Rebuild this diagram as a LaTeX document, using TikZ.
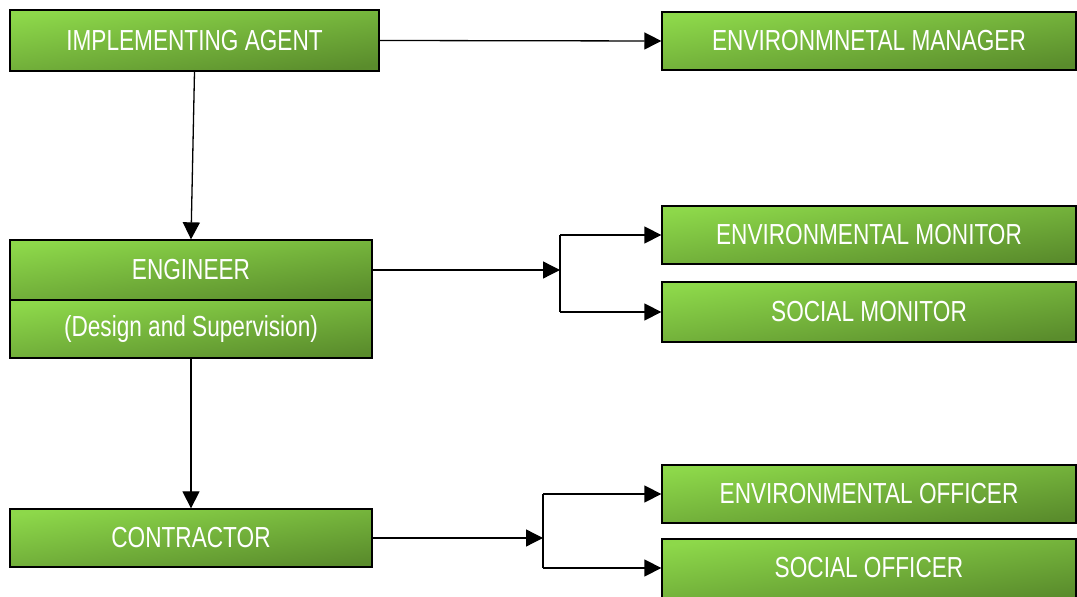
\documentclass[tikz,border=0pt]{standalone}
\usepackage{fontspec}
\newfontfamily\narrow[FakeStretch=0.78]{Liberation Sans}
\usetikzlibrary{arrows.meta}
\definecolor{gLight}{HTML}{8DD84A}
\definecolor{gDark}{HTML}{5A8C2C}
\tikzset{
  box/.style={draw=black, line width=1.3pt, rectangle, inner sep=0pt,
    top color=gLight, bottom color=gDark, shading angle=8,
    text=white, font=\narrow\fontsize{29}{32}\selectfont},
  lbox/.style={box, minimum width=362pt},
  rbox/.style={box, minimum width=414pt},
  conn/.style={draw=black, line width=1.3pt},
  arr/.style={conn, -{Triangle[length=17pt,width=17pt]}}
}
\begin{document}
\begin{tikzpicture}[x=1pt,y=1pt]
\clip (0,0) rectangle (1077,597);
\fill[white] (0,0) rectangle (1077,597);
% left column
\node[box, minimum width=369pt, minimum height=61pt] (ia) at (194.5,556.5) {IMPLEMENTING AGENT};
\node[lbox, minimum height=60pt] (eng) at (191,327) {ENGINEER};
\node[lbox, minimum height=58pt] (eds) at (191,268) {(Design and Supervision)};
\node[lbox, minimum height=58pt] (con) at (191,59) {CONTRACTOR};
% right column
\node[rbox, minimum height=58pt] (em) at (869,556) {ENVIRONMNETAL MANAGER};
\node[rbox, minimum height=58pt] (emon) at (869,362) {ENVIRONMENTAL MONITOR};
\node[rbox, minimum height=60pt] (smon) at (869,285) {SOCIAL MONITOR};
\node[rbox, minimum height=58pt] (eoff) at (869,103) {ENVIRONMENTAL OFFICER};
\node[rbox, minimum height=62pt] (soff) at (869,27) {};
\node[text=white, font=\narrow\fontsize{29}{32}\selectfont] (sofftxt) at (869,29) {SOCIAL OFFICER};
% junctions
\coordinate (j1) at (560,327);
\coordinate (j2) at (543,59);
% connectors
\draw[arr] (ia.east) -- (em.west);
\draw[arr] (ia.south) -- (eng.north);
\draw[arr] (eds.south) -- (con.north);
\draw[arr] (eng.east) -- (j1);
\draw[conn] (emon.west -| j1) -- (smon.west -| j1);
\draw[arr] (emon.west -| j1) -- (emon.west);
\draw[arr] (smon.west -| j1) -- (smon.west);
\draw[arr] (con.east) -- (j2);
\draw[conn] (eoff.west -| j2) -- (sofftxt -| j2);
\draw[arr] (eoff.west -| j2) -- (eoff.west);
\draw[arr] (sofftxt -| j2) -- (sofftxt -| soff.west);
\end{tikzpicture}
\end{document}
